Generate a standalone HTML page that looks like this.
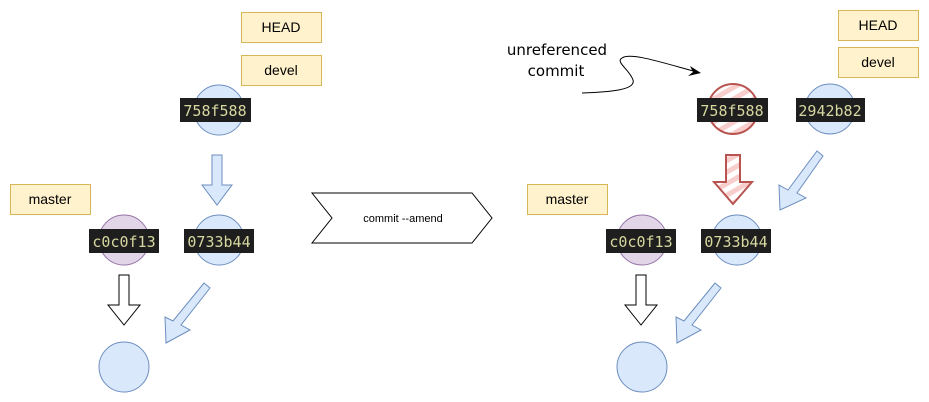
<!DOCTYPE html>
<html><head><style>body{margin:0;background:#fff}svg{display:block}</style></head><body>
<svg width="929" height="402" viewBox="0 0 929 402" xmlns="http://www.w3.org/2000/svg">
<defs>
<pattern id="h" width="10" height="10" patternUnits="userSpaceOnUse" patternTransform="rotate(-30)">
<rect width="10" height="10" fill="#fff"/><rect width="10" height="5" fill="#f8cecc"/></pattern>
</defs>
<g font-family="Liberation Sans, sans-serif" font-size="14" text-anchor="middle" fill="#000">
<g fill="#fff2cc" stroke="#d6b656">
<rect x="241.5" y="12.5" width="80" height="30"/><rect x="241.5" y="55.5" width="80" height="30"/>
<rect x="10.5" y="184.5" width="80" height="30"/>
<rect x="838.5" y="10.5" width="80" height="30"/><rect x="838.5" y="47.5" width="80" height="30"/>
<rect x="527.5" y="184.5" width="80" height="30"/>
</g>
<text x="281" y="32">HEAD</text><text x="281" y="75">devel</text><text x="50" y="204">master</text>
<text x="878" y="30">HEAD</text><text x="878" y="67">devel</text><text x="567" y="204">master</text>
<g stroke="#6c8ebf" fill="#dae8fc">
<circle cx="219" cy="110" r="25"/><circle cx="219" cy="240" r="25"/><circle cx="124" cy="367" r="25"/>
<circle cx="830" cy="109" r="25"/><circle cx="737" cy="240" r="25"/><circle cx="642" cy="367" r="25"/>
</g>
<g stroke="#9673a6" fill="#e1d5e7"><circle cx="124" cy="240" r="25"/><circle cx="642" cy="240" r="25"/></g>
<circle cx="733" cy="109" r="25" fill="url(#h)" stroke="#b85450" stroke-width="2"/>
<g fill="#1e1e1e">
<rect x="180" y="98" width="71" height="24"/><rect x="89" y="229" width="70" height="24"/><rect x="184" y="229" width="70" height="24"/>
<rect x="697" y="98" width="71" height="24"/><rect x="796" y="98" width="69" height="24"/>
<rect x="606" y="229" width="70" height="24"/><rect x="701" y="229" width="70" height="24"/>
</g>
<g font-family="DejaVu Sans Mono, Liberation Mono, monospace" font-size="15" fill="#d7d7a0">
<text x="215" y="116">758f588</text><text x="124" y="247">c0c0f13</text><text x="219" y="247">0733b44</text>
<text x="732" y="116">758f588</text><text x="830" y="116">2942b82</text>
<text x="641" y="247">c0c0f13</text><text x="736" y="247">0733b44</text>
</g>
<polygon points="212,155 222,155 222,185 232,185 217,205 202,185 212,185" fill="#dae8fc" stroke="#6c8ebf"/>
<polygon points="119,275 129,275 129,305 140,305 124,325 108,305 119,305" fill="#fff" stroke="#000"/>
<polygon points="636,275 646,275 646,305 657,305 641,325 625,305 636,305" fill="#fff" stroke="#000"/>
<g fill="#dae8fc" stroke="#6c8ebf">
<polygon points="204,283 210,288 181,325 190,330 166,343 165,317 173,321"/>
<polygon points="715,283 721,288 692,325 701,330 677,343 676,317 684,321"/>
<polygon points="817,151 823,156 797,193 806,198 780,210 779,185 788,190"/>
</g>
<polygon points="726,155 740,155 740,182 752,182 733,204 714,182 726,182" fill="url(#h)" stroke="#b85450" stroke-width="2"/>
<polygon points="312,193 472,193 492,218 472,243 312,243 332,218" fill="#fff" stroke="#000"/>
<text x="403" y="222" font-size="11">commit --amend</text>
<g font-family="Comic Sans MS, DejaVu Sans, sans-serif" font-size="15">
<text x="557" y="55">unreferenced</text><text x="556" y="76">commit</text>
</g>
<path d="M582,93 C610,92 636,90 633,80 C630,70 615,62 622,58 C630,52 660,62 697,72" fill="none" stroke="#000"/>
<polygon points="701,73 690,66 693,72 688,76" fill="#000"/>
</g>
</svg>
</body></html>
